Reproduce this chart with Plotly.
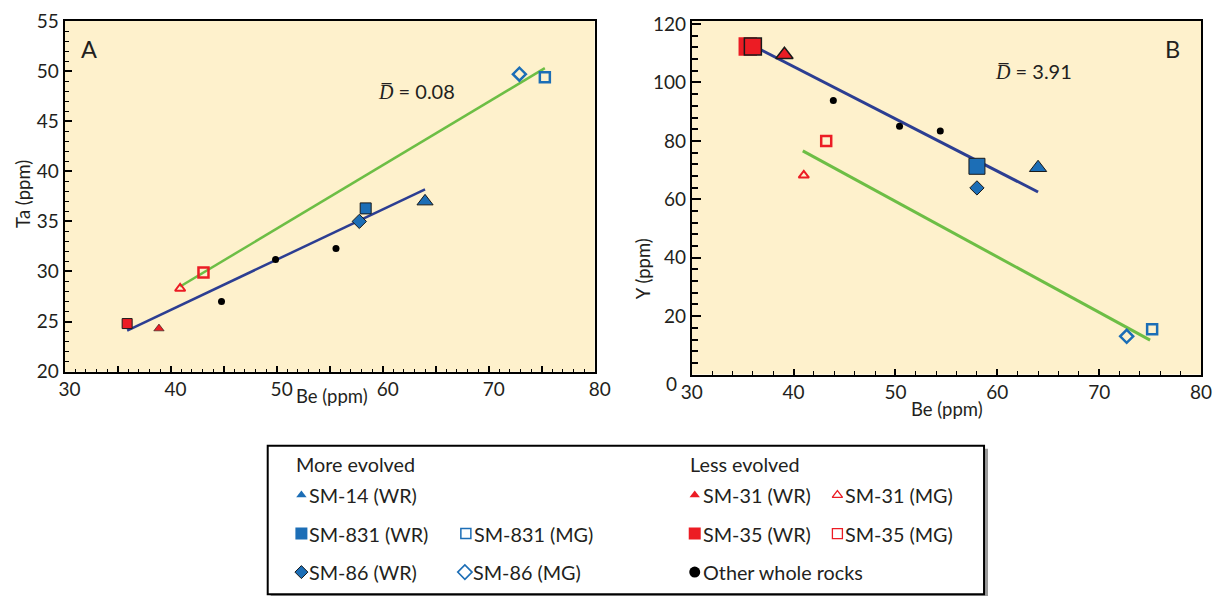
import plotly.graph_objects as go

# The page is shown with an 8px body margin and the whole page is then fitted to
# 1230x607, so layout positions are pre-compensated for that margin and scale.
W, H = 1230, 607
BODY = 8
SX = W / (W + 2 * BODY)
SY = H / (H + 2 * BODY)

# ---------------- data ----------------
SERIES = ["SM-14 (WR)", "SM-831 (WR)", "SM-831 (MG)", "SM-86 (WR)", "SM-86 (MG)",
          "SM-31 (WR)", "SM-31 (MG)", "SM-35 (WR)", "SM-35 (MG)", "Other whole rocks"]

# Panel A: Ta vs Be
A_BE = [[64.0], [58.4], [75.3], [57.8], [72.9], [38.9], [40.9], [35.9], [43.1], [44.8, 49.9, 55.6]]
A_TA = [[37.0], [36.3], [49.4], [35.0], [49.7], [24.3], [28.3], [24.8], [29.9], [27.0, 31.2, 32.3]]

# Panel B: Y vs Be
B_BE = [[64.0], [58.0], [75.2], [58.0], [72.7], [39.1], [41.0], [35.5, 36.0], [43.2], [43.9, 50.4, 54.4]]
B_Y = [[70.8], [71.3], [15.5], [63.9], [13.1], [109.5], [68.2], [112.3, 112.3], [80.0], [93.8, 85.0, 83.4]]

# fitted lines (end points)
A_FIT_WR_BE = [35.9, 64.0]
A_FIT_WR_TA = [24.1, 38.2]
A_FIT_MG_BE = [40.9, 75.3]
A_FIT_MG_TA = [28.5, 50.3]
B_FIT_WR_BE = [36.0, 64.0]
B_FIT_WR_Y = [112.6, 62.5]
B_FIT_MG_BE = [40.9, 75.0]
B_FIT_MG_Y = [76.6, 11.8]

D_BAR_A = "0.08"
D_BAR_B = "3.91"

X_TICKS_A = [30, 35, 40, 45, 50, 55, 60, 65, 70, 75, 80]
X_TEXT_A = ["30", "", "40", "", "50", "", "60", "", "70", "", "80"]
Y_TICKS_A = [20, 25, 30, 35, 40, 45, 50, 55]
X_TICKS_B = [30, 40, 50, 60, 70, 80]
Y_TICKS_B = [0, 20, 40, 60, 80, 100, 120]
Y_TEXT_B = ["", "20", "40", "60", "80", "100", "120"]

LEGEND_HEADERS = ["More evolved", "Less evolved"]

# ---------------- styles ----------------
BLUE = "#1C6EB6"
RED = "#EC1C24"
NAVY = "#2C3E92"
GREEN = "#6DBE45"
CREAM = "#FEF1CC"
FONT = "Lato"
TXT = "#231F20"
TICK_SIZE = 19


def PX(x):
    return (x / SX - BODY) / W


def PY(y):
    return 1 - (y / SY - BODY) / H


SYMBOL = {
    "SM-14 (WR)": ("triangle-up", BLUE, True),
    "SM-831 (WR)": ("square", BLUE, True),
    "SM-831 (MG)": ("square-open", BLUE, False),
    "SM-86 (WR)": ("diamond", BLUE, True),
    "SM-86 (MG)": ("diamond-open", BLUE, False),
    "SM-31 (WR)": ("triangle-up", RED, True),
    "SM-31 (MG)": ("triangle-up-open", RED, False),
    "SM-35 (WR)": ("square", RED, True),
    "SM-35 (MG)": ("square-open", RED, False),
    "Other whole rocks": ("circle", "black", True),
}
A_SIZE = [14, 11, 10, 11, 10, 9, 9, 10, 10, 7]
B_SIZE = [15, 16, 10, 11, 10, 15, 9, 17, 10, 7]
A_EDGE = [1, 1, 2.5, 1, 2.5, 0.6, 2, 1, 2.5, 0]
B_EDGE = [1, 1, 2.5, 1, 2.5, 1.5, 2, 1.5, 2.5, 0]

fig = go.Figure()


def marker_style(name, size, edge, special_line=None):
    sym, col, filled = SYMBOL[name]
    if filled:
        lc = special_line if special_line is not None else ("#1a1a1a" if edge else col)
        return dict(symbol=sym, size=size, color=col, line=dict(color=lc, width=edge))
    return dict(symbol=sym, size=size, color=col, line=dict(color=col, width=edge))


# fit lines
fig.add_trace(go.Scatter(x=A_FIT_MG_BE, y=A_FIT_MG_TA, mode="lines", line=dict(color=GREEN, width=2.5),
                         xaxis="x", yaxis="y", showlegend=False, hoverinfo="skip"))
fig.add_trace(go.Scatter(x=A_FIT_WR_BE, y=A_FIT_WR_TA, mode="lines", line=dict(color=NAVY, width=2.5),
                         xaxis="x", yaxis="y", showlegend=False, hoverinfo="skip"))
fig.add_trace(go.Scatter(x=B_FIT_MG_BE, y=B_FIT_MG_Y, mode="lines", line=dict(color=GREEN, width=3),
                         xaxis="x2", yaxis="y2", showlegend=False, hoverinfo="skip"))
fig.add_trace(go.Scatter(x=B_FIT_WR_BE, y=B_FIT_WR_Y, mode="lines", line=dict(color=NAVY, width=3),
                         xaxis="x2", yaxis="y2", showlegend=False, hoverinfo="skip"))

# points
for i, name in enumerate(SERIES):
    fig.add_trace(go.Scatter(x=A_BE[i], y=A_TA[i], mode="markers", name=name,
                             marker=marker_style(name, A_SIZE[i], A_EDGE[i]),
                             xaxis="x", yaxis="y", showlegend=False))
for i, name in enumerate(SERIES):
    special = [RED, "#1a1a1a"] if name == "SM-35 (WR)" else None
    fig.add_trace(go.Scatter(x=B_BE[i], y=B_Y[i], mode="markers", name=name,
                             marker=marker_style(name, B_SIZE[i], B_EDGE[i], special),
                             xaxis="x2", yaxis="y2", showlegend=False))

# ---------------- custom legend (hidden axis in reference-pixel units) ----------------
LEG_X = [301, 301, 467, 301, 466, 698, 842, 698, 842, 698]
LEG_Y = [497, 536, 536, 575, 575, 497, 497, 536, 536, 575]
LEG_SIZE = [9, 12, 10, 10, 11, 9, 9, 12, 10, 11]
LEG_EDGE = [0, 0, 1.5, 1, 1.6, 0, 1.3, 0, 1.3, 0]
for i, name in enumerate(SERIES):
    sym, col, filled = SYMBOL[name]
    if filled:
        mk = dict(symbol=sym, size=LEG_SIZE[i], color=col,
                  line=dict(color="#1a1a1a", width=LEG_EDGE[i]))
    else:
        mk = dict(symbol=sym, size=LEG_SIZE[i], color=col, line=dict(color=col, width=LEG_EDGE[i]))
    fig.add_trace(go.Scatter(x=[LEG_X[i]], y=[LEG_Y[i]], mode="markers", marker=mk,
                             xaxis="x3", yaxis="y3", showlegend=False, hoverinfo="skip"))
    fig.add_annotation(x=LEG_X[i] + 6, y=LEG_Y[i], xref="x3", yref="y3", text=name,
                       showarrow=False, xanchor="left", yanchor="middle",
                       font=dict(family=FONT, size=19.8, color=TXT))
for txt, hx in zip(LEGEND_HEADERS, [294, 691]):
    fig.add_annotation(x=hx, y=466, xref="x3", yref="y3", text=txt, showarrow=False,
                       xanchor="left", yanchor="middle", font=dict(family=FONT, size=19.8, color=TXT))

# ---------------- shapes ----------------
shapes = [
    dict(type="rect", xref="x domain", yref="y domain", x0=0, x1=1, y0=0, y1=1,
         fillcolor=CREAM, line=dict(width=0), layer="below"),
    dict(type="rect", xref="x2 domain", yref="y2 domain", x0=0, x1=1, y0=0, y1=1,
         fillcolor=CREAM, line=dict(width=0), layer="below"),
    dict(type="rect", xref="paper", yref="paper", x0=PX(270), x1=PX(994),
         y0=0, y1=PY(450), fillcolor="#9a9a9a", line=dict(width=0), layer="below"),
    dict(type="rect", xref="paper", yref="paper", x0=PX(267), x1=PX(990),
         y0=PY(597.5), y1=PY(447), fillcolor="white", line=dict(color="black", width=2),
         layer="below"),
]


# ---------------- annotations ----------------
def ptext(text, px, py, size=17, angle=0, xanchor="center"):
    fig.add_annotation(x=PX(px), y=PY(py), xref="paper", yref="paper", text=text,
                       showarrow=False, textangle=angle, xanchor=xanchor, yanchor="middle",
                       font=dict(family=FONT, size=size, color=TXT))


ptext("Ta (ppm)", 20, 192, size=18.5, angle=-90)
ptext("Be (ppm)", 332, 397, size=18.5)
ptext("Y (ppm)", 646, 268, size=18.5, angle=-90)
ptext("Be (ppm)", 953, 410, size=18.5)
ptext("A", 77, 45, size=23.5, xanchor="left")
ptext("B", 1171, 45, size=23.5, xanchor="left")
ptext("0", 675, 384, size=TICK_SIZE)

dtxt = '<span style="font-family:Liberation Serif"><i>D\u0305</i></span> = '
fig.add_annotation(x=59.4, y=48.0, xref="x", yref="y", text=dtxt + D_BAR_A, showarrow=False,
                   xanchor="left", yanchor="middle", font=dict(family=FONT, size=20, color=TXT))
fig.add_annotation(x=59.6, y=103.9, xref="x2", yref="y2", text=dtxt + D_BAR_B, showarrow=False,
                   xanchor="left", yanchor="middle", font=dict(family=FONT, size=20, color=TXT))

axis_common = dict(showline=True, linecolor="black", linewidth=2, mirror=True, ticks="inside",
                   tickcolor="black", showgrid=False, zeroline=False,
                   tickfont=dict(family=FONT, size=TICK_SIZE, color=TXT))

fig.update_layout(
    width=W, height=H, margin=dict(l=0, r=0, t=0, b=0),
    paper_bgcolor="white", plot_bgcolor="rgba(0,0,0,0)",
    showlegend=False, shapes=shapes,
    xaxis=dict(domain=[PX(62), PX(597)], range=[30, 80], anchor="y",
               tickmode="array", tickvals=X_TICKS_A, ticktext=X_TEXT_A, ticklen=6, tickwidth=1.5,
               ticklabelshift=5,
               minor=dict(dtick=1, ticklen=3, tickwidth=1, tickcolor="black", ticks="inside"),
               **axis_common),
    yaxis=dict(domain=[PY(372), PY(17)], range=[20, 55], anchor="x",
               tickmode="array", tickvals=Y_TICKS_A, ticklen=7, tickwidth=1.5,
               minor=dict(dtick=1, ticklen=4, tickwidth=1, tickcolor="black", ticks="inside"),
               **axis_common),
    xaxis2=dict(domain=[PX(695), PX(1209)], range=[30, 80], anchor="y2",
                tickmode="array", tickvals=X_TICKS_B, ticklen=6, tickwidth=1.5,
                minor=dict(dtick=2, ticklen=4, tickwidth=1.2, tickcolor="black", ticks="inside"),
                **axis_common),
    yaxis2=dict(domain=[PY(375), PY(17)], range=[0, 121], anchor="x2",
                tickmode="array", tickvals=Y_TICKS_B, ticktext=Y_TEXT_B, ticklen=9, tickwidth=2,
                minor=dict(dtick=4, ticklen=6, tickwidth=1.8, tickcolor="black", ticks="inside"),
                **axis_common),
    xaxis3=dict(domain=[PX(267), PX(990)], range=[267, 990], visible=False, anchor="y3", fixedrange=True),
    yaxis3=dict(domain=[PY(597.5), PY(447)], range=[597.5, 447], visible=False, anchor="x3", fixedrange=True),
)

fig.write_html("out.html")
